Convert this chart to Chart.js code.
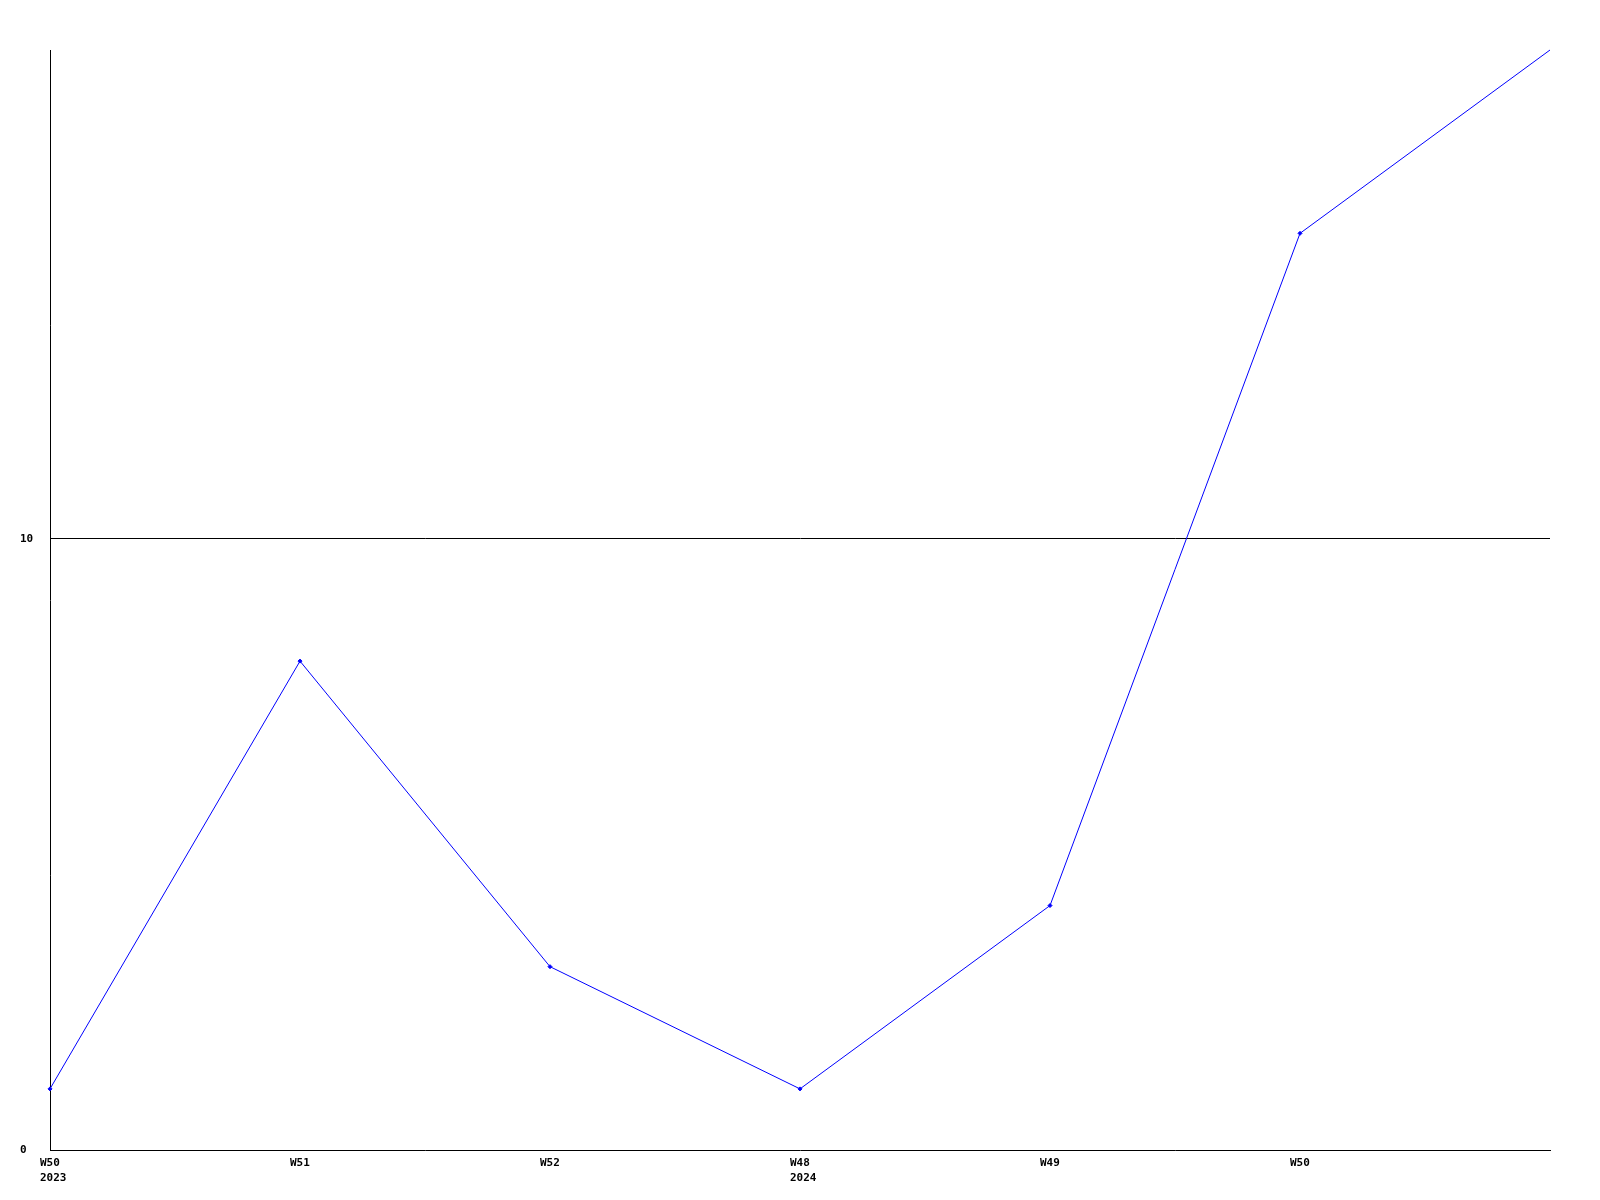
<!DOCTYPE html>
<html>
<head>
<meta charset="utf-8">
<script src="https://cdn.jsdelivr.net/npm/chart.js@4/dist/chart.umd.min.js"></script>
<style>
html,body{margin:0;padding:0;background:#fff;}
canvas{display:block;}
</style>
</head>
<body>
<canvas id="c" width="1600" height="1200"></canvas>
<script>
const weeks = ["W50", "W51", "W52", "W48", "W49", "W50", ""];
const years = ["2023", "", "", "2024", "", "", ""];
const values = [1, 8, 3, 1, 4, 15, 18];
const yTicks = [0, 10];

const labels = weeks.map((w, i) => years[i] ? [w, years[i]] : w);

const font = { family: "'DejaVu Sans Mono', monospace", size: 11, weight: 'bold', lineHeight: 1.36 };

new Chart(document.getElementById('c'), {
  type: 'line',
  data: {
    labels: labels,
    datasets: [{
      data: values,
      borderColor: '#0000ff',
      backgroundColor: '#0000ff',
      borderWidth: 1,
      pointStyle: 'rectRot',
      pointRadius: values.map((v, i) => i === values.length - 1 ? 0 : 2),
      pointBorderWidth: 1,
      tension: 0,
      clip: false
    }]
  },
  options: {
    responsive: false,
    animation: false,
    devicePixelRatio: 1,
    layout: { padding: { left: 20, top: 50, right: 50, bottom: 0 } },
    plugins: { legend: { display: false }, tooltip: { enabled: false } },
    scales: {
      x: {
        type: 'category',
        offset: false,
        grid: { display: false, drawTicks: false },
        border: { display: true, color: '#000', width: 1 },
        ticks: {
          color: '#000',
          font: font,
          align: 'start',
          labelOffset: -10,
          maxRotation: 0,
          minRotation: 0,
          autoSkip: false,
          padding: 6
        },
        afterFit: (a) => { a.height = 50; }
      },
      y: {
        min: 0,
        max: 18,
        afterBuildTicks: (a) => { a.ticks = yTicks.map(v => ({ value: v })); },
        grid: {
          drawTicks: false,
          color: (ctx) => (ctx.tick && ctx.tick.value === 10) ? '#000' : 'rgba(0,0,0,0)',
          lineWidth: 1
        },
        border: { display: true, color: '#000', width: 1 },
        ticks: {
          color: '#000',
          font: font,
          crossAlign: 'far',
          padding: 0
        },
        afterFit: (a) => { a.width = 30; }
      }
    }
  }
});
</script>
</body>
</html>
